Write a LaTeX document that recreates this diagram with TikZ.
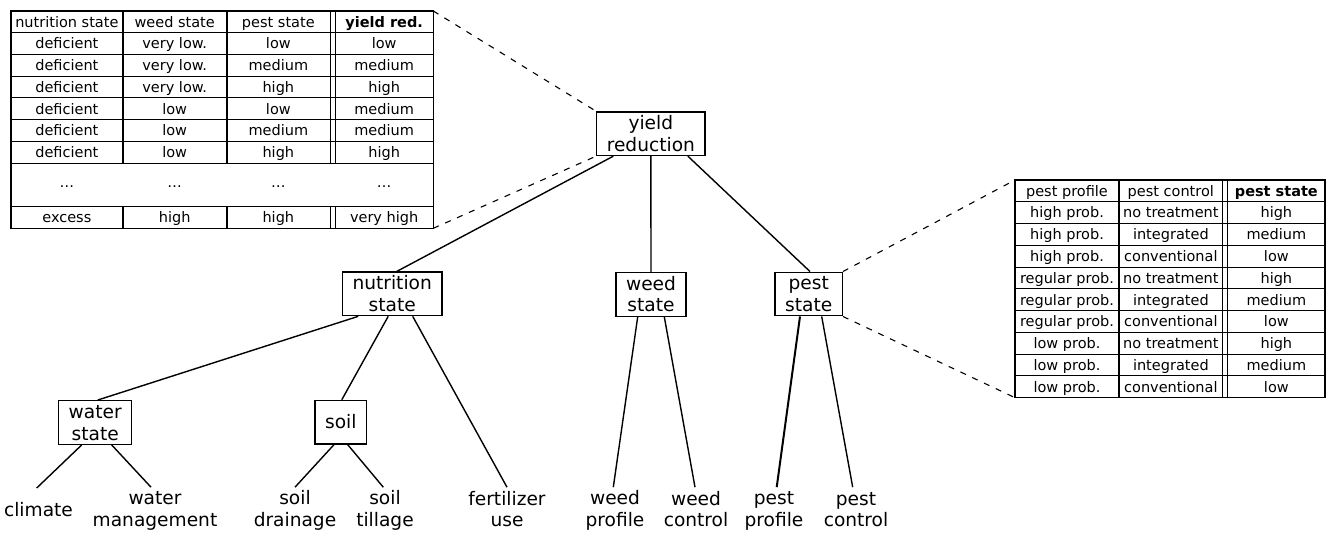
\documentclass[tikz,border=0pt]{standalone}
\usepackage{fontspec}
\setmainfont{DejaVu Sans}
\usetikzlibrary{calc}
% strut giving every text line the same height and depth
\newcommand\tst{\rule[-3.8pt]{0pt}{20.9pt}}

\begin{document}
\begin{tikzpicture}[x=1pt,y=-1pt,
  box/.style={draw, line width=1.3pt, inner xsep=10pt, inner ysep=0pt,
    minimum height=43.6pt, align=center, font=\fontsize{18.6}{21.7}\selectfont},
  leaf/.style={inner sep=0pt, minimum height=43.6pt, align=center,
    font=\fontsize{18.6}{21.7}\selectfont},
  edge/.style={line width=1.4pt},
  link/.style={line width=1.1pt, dash pattern=on 6pt off 7pt},
  cell/.style={anchor=base, inner sep=0pt, font=\fontsize{14.5}{17}\selectfont},
  hcell/.style={cell, font=\fontsize{14.5}{17}\selectfont\bfseries},
  rowrule/.style={line width=0.9pt},
  colrule/.style={line width=1.8pt},
  frame/.style={line width=1.2pt},
]
\useasboundingbox (0,0) rectangle (1331,533);

% ---------- table of the yield reduction ----------
\draw[frame] (11,11) rectangle (433.3,228.3);
\foreach \k in {1,...,7,9}
  \draw[rowrule] (11,{11+21.73*\k}) -- (433.3,{11+21.73*\k});
\foreach \x in {122.7,226.7} {
  \draw[colrule] (\x,11) -- (\x,163.1);
  \draw[colrule] (\x,206.6) -- (\x,228.3);
}
\foreach \x in {330,335} {
  \draw[rowrule] (\x,11) -- (\x,163.1);
  \draw[rowrule] (\x,206.6) -- (\x,228.3);
}
\node[cell] (L0-a) at (66.85,27.2) {nutrition state};
\node[cell] (L0-b) at (174.7,27.2) {weed state};
\node[cell] (L0-c) at (278.35,27.2) {pest state};
\node[hcell] (L0-d) at (384.15,27.2) {yield red.};
\foreach \a/\b/\c/\d [count=\i] in {
  deficient/very low./low/low,
  deficient/very low./medium/medium,
  deficient/very low./high/high,
  deficient/low/low/medium,
  deficient/low/medium/medium,
  deficient/low/high/high} {
  \pgfmathsetmacro\yb{11+21.73*(\i+0.5)+5.3}
  \node[cell] (L\i-a) at (66.85,\yb) {\a};
  \node[cell] (L\i-b) at (174.7,\yb) {\b};
  \node[cell] (L\i-c) at (278.35,\yb) {\c};
  \node[cell] (L\i-d) at (384.15,\yb) {\d};
}
\node[cell] (L7-a) at (66.85,187.5) {…};
\node[cell] (L7-b) at (174.7,187.5) {…};
\node[cell] (L7-c) at (278.35,187.5) {…};
\node[cell] (L7-d) at (384.15,187.5) {…};
\node[cell] (L9-a) at (66.85,222.7) {excess};
\node[cell] (L9-b) at (174.7,222.7) {high};
\node[cell] (L9-c) at (278.35,222.7) {high};
\node[cell] (L9-d) at (384.15,222.7) {very high};
\coordinate (LTtr) at (433.3,11);
\coordinate (LTbr) at (433.3,228.3);

% ---------- table of the pest state ----------
\draw[frame] (1015,180) rectangle (1325,397.7);
\foreach \k in {1,...,9}
  \draw[rowrule] (1015,{180+21.77*\k}) -- (1325,{180+21.77*\k});
\draw[colrule] (1119,180) -- (1119,397.7);
\foreach \x in {1222.7,1227.7}
  \draw[rowrule] (\x,180) -- (\x,397.7);
\node[cell] (R0-a) at (1067,196.2) {pest profile};
\node[cell] (R0-b) at (1170.85,196.2) {pest control};
\node[hcell] (R0-c) at (1276.35,196.2) {pest state};
\foreach \a/\b/\c [count=\i] in {
  high prob./no treatment/high,
  high prob./integrated/medium,
  high prob./conventional/low,
  regular prob./no treatment/high,
  regular prob./integrated/medium,
  regular prob./conventional/low,
  low prob./no treatment/high,
  low prob./integrated/medium,
  low prob./conventional/low} {
  \pgfmathsetmacro\yb{180+21.77*(\i+0.5)+5.3}
  \node[cell] (R\i-a) at (1067,\yb) {\a};
  \node[cell] (R\i-b) at (1170.85,\yb) {\b};
  \node[cell] (R\i-c) at (1276.35,\yb) {\c};
}
\coordinate (RTtl) at (1015,180);
\coordinate (RTbl) at (1015,397.7);

% ---------- tree of variables ----------
\node[box] (yr) at (650.85,133.7) {yield\tst\\reduction\tst};
\node[box] (ns) at (392.2,293.9) {nutrition\tst\\state\tst};
\node[box] (ws) at (651,294.4) {weed\tst\\state\tst};
\node[box] (ps) at (808.7,294) {pest\tst\\state\tst};
\node[box] (wa) at (95.2,422.5) {water\tst\\state\tst};
\node[box] (so) at (340.8,422.2) {soil\tst};

\node[leaf] (cl) at (38.5,510) {climate\tst};
\node[leaf] (wm) at (155,509.2) {water\tst\\management\tst};
\node[leaf] (sd) at (295,509.2) {soil\tst\\drainage\tst};
\node[leaf] (st) at (385,509.2) {soil\tst\\tillage\tst};
\node[leaf] (fu) at (507,509.2) {fertilizer\tst\\use\tst};
\node[leaf] (wp) at (615,509.2) {weed\tst\\profile\tst};
\node[leaf] (wc) at (696,509.2) {weed\tst\\control\tst};
\node[leaf] (pp) at (774,509.2) {pest\tst\\profile\tst};
\node[leaf] (pc) at (856,509.2) {pest\tst\\control\tst};

\draw[edge] ([xshift=-37.5pt]yr.south) -- ([xshift=4.5pt]ns.north);
\draw[edge] (yr.south) -- (ws.north);
\draw[edge] ([xshift=37pt]yr.south) -- ([xshift=1.3pt]ps.north);
\draw[edge] ([xshift=-34pt]ns.south) -- ([xshift=2.5pt]wa.north);
\draw[edge] ([xshift=-4pt]ns.south) -- ([xshift=1pt]so.north);
\draw[edge] ([xshift=20.5pt]ns.south) -- (fu.north);
\draw[edge] ([xshift=-13.5pt]wa.south) -- ([xshift=-1.8pt]cl.north);
\draw[edge] ([xshift=16.5pt]wa.south) -- ([xshift=-4pt]wm.north);
\draw[edge] ([xshift=-6.8pt]so.south) -- (sd.north);
\draw[edge] ([xshift=6.9pt]so.south) -- ([xshift=-1.7pt]st.north);
\draw[edge] ([xshift=-13.3pt]ws.south) -- ([xshift=-1.7pt]wp.north);
\draw[edge] ([xshift=13.3pt]ws.south) -- ([xshift=-1pt]wc.north);
\draw[edge, line width=2pt] ([xshift=-8.7pt]ps.south) -- ([xshift=2.7pt]pp.north);
\draw[edge] ([xshift=13pt]ps.south) -- ([xshift=-3.3pt]pc.north);

% ---------- dashed links to the tables ----------
\draw[link] (LTtr) -- (yr.north west);
\draw[link] (LTbr) -- (yr.south west);
\draw[link] (ps.north east) -- (RTtl);
\draw[link] (ps.south east) -- (RTbl);
\end{tikzpicture}
\end{document}
